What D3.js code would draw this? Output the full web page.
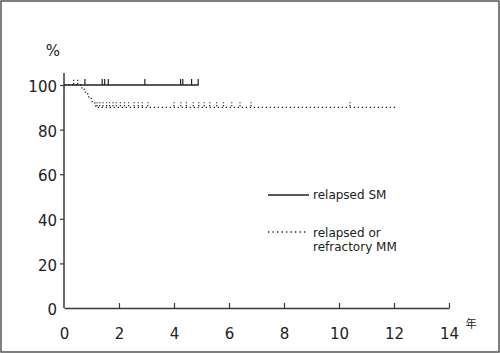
<!DOCTYPE html>
<html><head><meta charset="utf-8">
<script src="https://cdn.jsdelivr.net/npm/d3@7"></script>
<style>
html,body{margin:0;padding:0;background:#fff;}
svg{display:block;}
</style></head>
<body>
<svg id="c" width="500" height="353"></svg>
<script>
// ---- data ----
const xTicks = [0, 2, 4, 6, 8, 10, 12, 14];
const yTicks = [0, 20, 40, 60, 80, 100];
const xUnit = "年";
const yUnit = "%";
const seriesNames = ["relapsed SM", "relapsed or refractory MM"];
// relapsed SM: step survival (years, %)
const smTimes = [0, 4.9];
const smValues = [100, 100];
const smCensor = [0.76, 1.39, 1.48, 1.61, 2.94, 4.24, 4.32, 4.64, 4.88];
// relapsed or refractory MM
const mmTimes = [0, 0.65, 0.78, 0.9, 1.02, 1.15, 12.1];
const mmValues = [100, 98, 96, 94, 92, 90, 90];
const mmCensorEarly = [0.35, 0.5];
const mmCensor = [1.2, 1.3, 1.42, 1.55, 1.66, 1.78, 1.9, 2.05, 2.2, 2.35, 2.55, 2.7, 2.85, 3.05,
  4.0, 4.25, 4.45, 4.7, 4.9, 5.1, 5.3, 5.55, 5.8, 6.1, 6.4, 6.8, 10.4];

// ---- drawing ----
const svg = d3.select("#c");
const ink = "#3a3a3a";
svg.append("rect").attr("x",1).attr("y",1).attr("width",498).attr("height",351)
  .attr("fill","#fff").attr("stroke","#555").attr("stroke-width",1.5);

const x = d3.scaleLinear().domain([0,14]).range([64,449]);
const y = d3.scaleLinear().domain([0,100]).range([308,85]);
const font = "DejaVu Sans, sans-serif";

// x axis
const gx = svg.append("g").attr("transform","translate(0,"+y(0)+")")
  .call(d3.axisBottom(x).tickValues(xTicks).tickSize(-5).tickPadding(17).tickSizeOuter(0));
gx.select(".domain").attr("stroke",ink).attr("stroke-width",1.5);
gx.selectAll(".tick line").attr("stroke",ink).attr("stroke-width",1.2);
gx.selectAll(".tick line").filter(d=>d===0).remove();
gx.selectAll("text").attr("font-family",font).attr("font-size",15).attr("fill","#222").attr("dy","0.9em");

// y axis
const gy = svg.append("g").attr("transform","translate("+x(0)+",0)")
  .call(d3.axisLeft(y).tickValues(yTicks).tickSize(4).tickPadding(3).tickSizeOuter(0));
gy.select(".domain").attr("d","M0,"+y(0)+"V"+(y(100)-12)).attr("stroke",ink).attr("stroke-width",1.5);
gy.selectAll(".tick line").attr("stroke",ink).attr("stroke-width",1.2);
gy.selectAll(".tick line").filter(d=>d===0).remove();
gy.selectAll("text").attr("font-family",font).attr("font-size",15).attr("fill","#222").attr("dy","0.45em");

svg.append("text").attr("x",53).attr("y",56).attr("text-anchor","middle")
  .attr("font-family",font).attr("font-size",15).attr("fill","#222").text(yUnit);
svg.append("text").attr("x",471).attr("y",328).attr("text-anchor","middle")
  .attr("font-family","Noto Sans CJK JP, sans-serif").attr("font-size",11).attr("fill","#222").text(xUnit);

// curves
const line = d3.line().x(d=>x(d[0])).y(d=>y(d[1])).curve(d3.curveStepAfter);
const smData = smTimes.map((t,i)=>[t, smValues[i]]);
const mmData = mmTimes.map((t,i)=>[t, mmValues[i]]);

svg.append("path").datum(smData).attr("d",line).attr("fill","none")
  .attr("stroke","#222").attr("stroke-width",1.3);
svg.selectAll(".smc").data(smCensor).join("line")
  .attr("x1",d=>x(d)).attr("x2",d=>x(d)).attr("y1",y(100)).attr("y2",y(100)-6)
  .attr("stroke","#222").attr("stroke-width",1.2);

svg.append("path").datum(mmData).attr("d",line).attr("fill","none")
  .attr("stroke","#222").attr("stroke-width",1.3).attr("stroke-dasharray","1.3,2.7");
svg.selectAll(".mmc0").data(mmCensorEarly).join("line")
  .attr("x1",d=>x(d)).attr("x2",d=>x(d)).attr("y1",y(100)-1).attr("y2",y(100)-6)
  .attr("stroke","#222").attr("stroke-width",1.2).attr("stroke-dasharray","1.3,1.7");
svg.selectAll(".mmc").data(mmCensor).join("line")
  .attr("x1",d=>x(d)).attr("x2",d=>x(d)).attr("y1",y(90)-1).attr("y2",y(90)-5)
  .attr("stroke","#222").attr("stroke-width",1.2).attr("stroke-dasharray","1.3,1.7");

// legend
const lg = svg.append("g");
lg.append("line").attr("x1",268).attr("x2",309).attr("y1",195).attr("y2",195)
  .attr("stroke","#222").attr("stroke-width",1.3);
lg.append("text").attr("x",313).attr("y",199).attr("font-family",font).attr("font-size",12)
  .attr("fill","#222").text(seriesNames[0]);
lg.append("line").attr("x1",268).attr("x2",306).attr("y1",232).attr("y2",232)
  .attr("stroke","#222").attr("stroke-width",1.3).attr("stroke-dasharray","1.3,3.2");
const words = seriesNames[1].split(" ");
lg.append("text").attr("x",313).attr("y",237).attr("font-family",font).attr("font-size",12)
  .attr("fill","#222").text(words.slice(0,2).join(" "));
lg.append("text").attr("x",313).attr("y",251).attr("font-family",font).attr("font-size",12)
  .attr("fill","#222").text(words.slice(2).join(" "));
</script>
</body></html>
